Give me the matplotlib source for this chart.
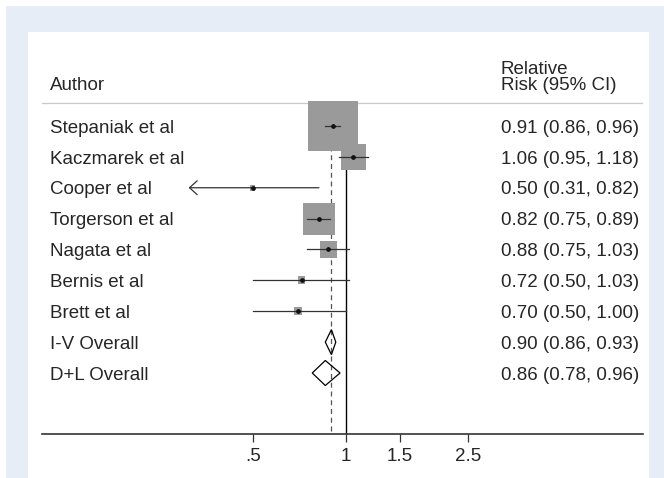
import matplotlib
matplotlib.use("Agg")
import matplotlib.pyplot as plt
import matplotlib.transforms as mtransforms
from matplotlib.patches import Rectangle, Polygon
import numpy as np

# ---- data ----
authors = ["Stepaniak et al", "Kaczmarek et al", "Cooper et al", "Torgerson et al",
           "Nagata et al", "Bernis et al", "Brett et al"]
rr = [0.91, 1.06, 0.50, 0.82, 0.88, 0.72, 0.70]
lo = [0.86, 0.95, 0.31, 0.75, 0.75, 0.50, 0.50]
hi = [0.96, 1.18, 0.82, 0.89, 1.03, 1.03, 1.00]
weights = [53.9, 13.9, 0.7, 22.3, 6.5, 1.3, 1.4]

overall_labels = ["I-V Overall", "D+L Overall"]
overall_rr = [0.90, 0.86]
overall_lo = [0.86, 0.78]
overall_hi = [0.93, 0.96]

xticks = [0.5, 1, 1.5, 2.5]
xticklabels = [".5", "1", "1.5", "2.5"]

header_left = "Author"
header_right = ["Relative", "Risk (95% CI)"]

# ---- style ----
plt.rcParams['font.family'] = ['Liberation Sans', 'DejaVu Sans']
FS = 13.5
TXT = '#262626'
BLUE = '#e7edf6'
BOX = '#9a9a9a'

W, H = 664, 478
fig = plt.figure(figsize=(W / 100, H / 100), dpi=100)
fig.patch.set_facecolor('white')

def px(x0, y0, x1, y1):
    return [x0 / W, 1 - y1 / H, (x1 - x0) / W, (y1 - y0) / H]

# background rectangles
b = px(6, 6, 664, 478)
fig.patches.append(Rectangle((b[0], b[1]), b[2], b[3], transform=fig.transFigure,
                             facecolor=BLUE, edgecolor='none', zorder=-10))
w_ = px(28, 32, 649, 478)
fig.patches.append(Rectangle((w_[0], w_[1]), w_[2], w_[3], transform=fig.transFigure,
                             facecolor='white', edgecolor='none', zorder=-9))

ax = fig.add_axes(px(42, 40, 643, 434))
ax.set_facecolor('none')
ax.set_xscale('log')
ax.set_xlim(0.1038, 9.21)
ax.set_ylim(9.976, -2.785)

for s in ['top', 'right', 'left']:
    ax.spines[s].set_visible(False)
ax.spines['bottom'].set_color('#333333')
ax.spines['bottom'].set_linewidth(1.2)
ax.set_yticks([])
ax.set_xticks(xticks)
ax.set_xticklabels(xticklabels)
ax.xaxis.set_minor_locator(matplotlib.ticker.NullLocator())
ax.tick_params(axis='x', length=5.5, width=0.9, color='#333333', pad=4.5,
               labelsize=FS, labelcolor=TXT)

n = len(authors)
rows = list(range(n))
orow = [n, n + 1]

# reference lines
ax.plot([1, 1], [-0.5, 9.976], color='black', lw=1.0, zorder=1)
ax.plot([overall_rr[0]] * 2, [-0.5, 9.976], color='#555555', lw=0.9,
        dashes=(4, 3), zorder=1)

# header separator
ax.plot([0, 1], [-0.729, -0.729], transform=ax.get_yaxis_transform(),
        color='#c8c8c8', lw=0.9, zorder=0)

# boxes
k = 6.81  # px per sqrt(weight)
sizes = [(k * np.sqrt(w) * 0.72) ** 2 for w in weights]
ax.scatter(rr, rows, s=sizes, marker='s', color=BOX, linewidths=0, zorder=2)

# CIs
for i in rows:
    if i == 2:
        ax.annotate('', xy=(lo[i], i), xytext=(hi[i], i),
                    arrowprops=dict(arrowstyle='->,head_length=0.55,head_width=0.5',
                                    lw=0.9, color='#333333', shrinkA=0, shrinkB=0,
                                    mutation_scale=10),
                    zorder=3)
    else:
        ax.plot([lo[i], hi[i]], [i, i], color='#333333', lw=0.9, zorder=3)
ax.plot(rr, rows, 'o', color='#111111', markersize=2.4, zorder=4, linestyle='none')

# diamonds
for j, r in enumerate(orow):
    hh = 0.405
    poly = Polygon([(overall_lo[j], r), (overall_rr[j], r - hh),
                    (overall_hi[j], r), (overall_rr[j], r + hh)],
                   closed=True, facecolor='none', edgecolor='black', lw=0.9, zorder=3)
    ax.add_patch(poly)

# text columns
tr = mtransforms.blended_transform_factory(ax.transAxes, ax.transData)
xl = (50 - 42) / 601
xr = (501 - 42) / 601
ax.text(xl, -1.18, header_left, transform=tr, fontsize=FS, color=TXT, va='baseline')
ax.text(xr, -1.684, header_right[0], transform=tr, fontsize=FS, color=TXT, va='baseline')
ax.text(xr, -1.18, header_right[1], transform=tr, fontsize=FS, color=TXT, va='baseline')

for i in rows:
    ax.text(xl, i + 0.215, authors[i], transform=tr, fontsize=FS, color=TXT, va='baseline')
    ax.text(xr, i + 0.215, f"{rr[i]:.2f} ({lo[i]:.2f}, {hi[i]:.2f})", transform=tr,
            fontsize=FS, color=TXT, va='baseline')
for j, r in enumerate(orow):
    ax.text(xl, r + 0.215, overall_labels[j], transform=tr, fontsize=FS, color=TXT, va='baseline')
    ax.text(xr, r + 0.215, f"{overall_rr[j]:.2f} ({overall_lo[j]:.2f}, {overall_hi[j]:.2f})",
            transform=tr, fontsize=FS, color=TXT, va='baseline')

fig.savefig("out.png", dpi=100)
